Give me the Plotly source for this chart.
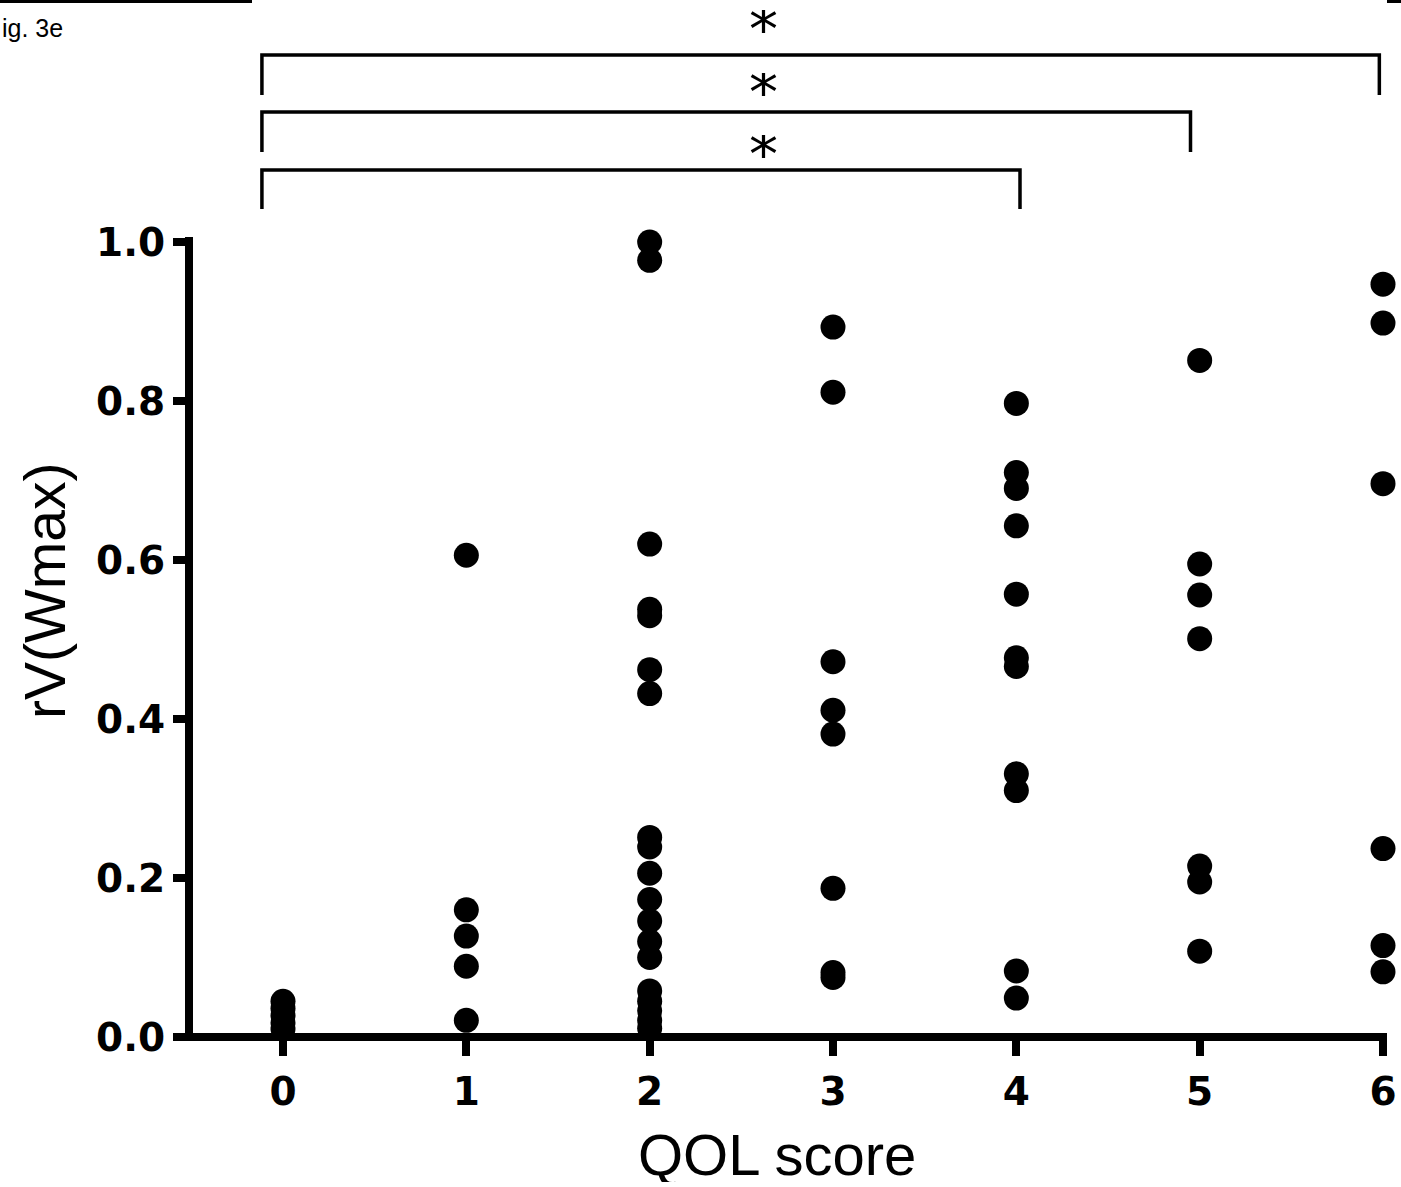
import plotly.graph_objects as go

# ---- data ----
qol_scores = [0, 1, 2, 3, 4, 5, 6]
rv_qol0 = [0.045, 0.036, 0.027, 0.018, 0.010]
rv_qol1 = [0.606, 0.160, 0.127, 0.089, 0.021]
rv_qol2 = [1.000, 0.977, 0.620, 0.538, 0.530, 0.462, 0.432, 0.251, 0.239,
           0.206, 0.173, 0.146, 0.120, 0.100, 0.058, 0.045, 0.033, 0.021, 0.011]
rv_qol3 = [0.893, 0.811, 0.472, 0.411, 0.381, 0.187, 0.081, 0.075]
rv_qol4 = [0.797, 0.710, 0.690, 0.643, 0.557, 0.477, 0.466, 0.331, 0.310, 0.083, 0.049]
rv_qol5 = [0.851, 0.595, 0.556, 0.501, 0.215, 0.195, 0.108]
rv_qol6 = [0.947, 0.898, 0.696, 0.237, 0.115, 0.082]
groups = [rv_qol0, rv_qol1, rv_qol2, rv_qol3, rv_qol4, rv_qol5, rv_qol6]

y_ticks = [0.0, 0.2, 0.4, 0.6, 0.8, 1.0]
y_tick_labels = ["0.0", "0.2", "0.4", "0.6", "0.8", "1.0"]
comparisons = [(0, 4), (0, 5), (0, 6)]
sig_labels = ["*", "*", "*"]

xs, ys = [], []
for s, vals in zip(qol_scores, groups):
    xs += [s] * len(vals)
    ys += vals

# ---- layout geometry (pixels) ----
W, H = 1401, 1187
ML, MR, MT, MB = 193, 14, 237, 150
PW, PH = W - ML - MR, H - MT - MB

def py(pix):  # pixel row -> paper y
    return (H - MB - pix) / PH

def px(pix):  # pixel col -> paper x
    return (pix - ML) / PW

fig = go.Figure()
fig.add_trace(go.Scatter(
    x=xs, y=ys, mode="markers",
    marker=dict(size=25, color="black", line=dict(width=0)),
    cliponaxis=False, showlegend=False, hoverinfo="x+y"))

tickfont = dict(family="DejaVu Sans", size=39, color="black", weight="bold")
fig.update_xaxes(
    range=[-0.4909, 6.0218], tickmode="array", tickvals=qol_scores,
    ticktext=[str(s) for s in qol_scores], automargin=False,
    showline=False,
    ticks="outside", ticklen=18, tickwidth=8, tickcolor="black",
    tickfont=tickfont, ticklabelstandoff=2,
    showgrid=False, zeroline=False)
fig.update_yaxes(
    range=[0, 1.00629], tickmode="array", tickvals=y_ticks, ticktext=y_tick_labels,
    automargin=False,
    showline=True, linewidth=8, linecolor="black",
    ticks="outside", ticklen=12, tickwidth=8, tickcolor="black",
    tickfont=tickfont, ticklabelstandoff=0,
    showgrid=False, zeroline=False)

shapes = []
annotations = []
# x-axis baseline (drawn as a shape so that it is centred on y = 0)
shapes.append(dict(type="line", xref="paper", yref="paper", x0=px(178), x1=px(1387),
                   y0=0, y1=0, line=dict(color="black", width=8), layer="above"))

# significance brackets: (horizontal row, bottom of legs, asterisk centre) in pixels
bracket_rows = [(170, 209, 147), (112, 152, 85), (55, 95, 22)]
right_adjust = [0.02, -0.05, -0.02]
for (a, b), (top, bot, star), adj, lab in zip(comparisons, bracket_rows, right_adjust, sig_labels):
    xl, xr = a - 0.115, b + adj
    shapes.append(dict(type="path", xref="x", yref="paper",
                       path=f"M {xl},{py(bot)} L {xl},{py(top)} L {xr},{py(top)} L {xr},{py(bot)}",
                       line=dict(color="black", width=3.5)))
    annotations.append(dict(text=lab, xref="paper", yref="paper",
                            x=px(763), y=py(star + 8), xanchor="center", yanchor="middle",
                            height=40, valign="middle", showarrow=False,
                            font=dict(family="DejaVu Sans", size=58, color="black")))

# decorative top lines
shapes.append(dict(type="line", xref="paper", yref="paper", x0=px(0), x1=px(252),
                   y0=py(1.5), y1=py(1.5), line=dict(color="black", width=3)))
shapes.append(dict(type="line", xref="paper", yref="paper", x0=px(1387), x1=px(1401),
                   y0=py(1.5), y1=py(1.5), line=dict(color="black", width=3)))

annotations.append(dict(text="ig. 3e", xref="paper", yref="paper", x=px(0), y=py(28),
                        xanchor="left", yanchor="middle", showarrow=False,
                        font=dict(family="Liberation Sans", size=25, color="black")))
annotations.append(dict(text="QOL score", xref="paper", yref="paper", x=px(777), y=py(1154),
                        xanchor="center", yanchor="middle", height=56, valign="middle",
                        showarrow=False,
                        font=dict(family="Liberation Sans", size=58, color="black")))
annotations.append(dict(text="rV(Wmax)", xref="paper", yref="paper", x=px(45), y=py(591),
                        xanchor="center", yanchor="middle", textangle=-90, showarrow=False,
                        font=dict(family="Liberation Sans", size=57, color="black")))

fig.update_layout(
    width=W, height=H, autosize=False,
    margin=dict(l=ML, r=MR, t=MT, b=MB, pad=0, autoexpand=False),
    paper_bgcolor="white", plot_bgcolor="white",
    shapes=shapes, annotations=annotations, showlegend=False)

fig.write_html("out.html", config={"displayModeBar": False},
               post_script="document.body.style.margin='0';document.body.style.overflow='hidden';")
